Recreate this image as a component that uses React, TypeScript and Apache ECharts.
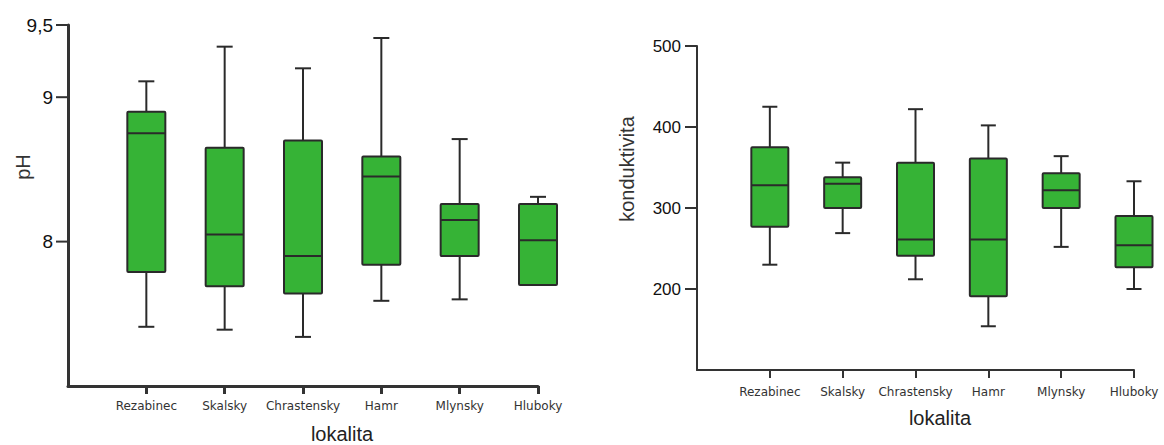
import React, { useEffect, useRef } from "react";
import * as echarts from "echarts";

const categories = ["Rezabinec", "Skalsky", "Chrastensky", "Hamr", "Mlynsky", "Hluboky"];

// [min, Q1, median, Q3, max]
const phBoxes = [
  [7.41, 7.79, 8.75, 8.9, 9.11],
  [7.39, 7.69, 8.05, 8.65, 9.35],
  [7.34, 7.64, 7.9, 8.7, 9.2],
  [7.59, 7.84, 8.45, 8.59, 9.41],
  [7.6, 7.9, 8.15, 8.26, 8.71],
  [7.7, 7.7, 8.01, 8.26, 8.31],
];

const condBoxes = [
  [230, 277, 328, 375, 425],
  [269, 300, 330, 338, 356],
  [212, 241, 261, 356, 422],
  [154, 191, 261, 361, 402],
  [252, 300, 322, 343, 364],
  [200, 227, 254, 290, 333],
];

const phTicks = [8, 9, 9.5];
const condTicks = [200, 300, 400, 500];

const GREEN = "#36b336";
const DARK = "#2a2a2a";

function makeRender(boxW: number, capW: number, lw: number, ticks: number[]) {
  return (params: any, api: any) => {
    const idx = api.value(0);
    const pMin = api.coord([idx, api.value(1)]);
    const pQ1 = api.coord([idx, api.value(2)]);
    const pMed = api.coord([idx, api.value(3)]);
    const pQ3 = api.coord([idx, api.value(4)]);
    const pMax = api.coord([idx, api.value(5)]);
    const x = pMed[0];
    const hb = boxW / 2;
    const hc = capW / 2;
    const st = { stroke: DARK, lineWidth: lw };
    const children: any[] = [];
    if (params.dataIndex === 0) {
      // y-axis tick marks, placed through the axis scale
      ticks.forEach((t) => {
        const p = api.coord([0, t]);
        children.push({
          type: "line",
          shape: { x1: p[0] - 12, y1: p[1], x2: p[0], y2: p[1] },
          style: { stroke: "#333", lineWidth: 2 },
        });
      });
    }
    if (pMax[1] < pQ3[1] - 0.5) {
      children.push({ type: "line", shape: { x1: x, y1: pMax[1], x2: x, y2: pQ3[1] }, style: st });
      children.push({ type: "line", shape: { x1: x - hc, y1: pMax[1], x2: x + hc, y2: pMax[1] }, style: st });
    }
    if (pMin[1] > pQ1[1] + 0.5) {
      children.push({ type: "line", shape: { x1: x, y1: pQ1[1], x2: x, y2: pMin[1] }, style: st });
      children.push({ type: "line", shape: { x1: x - hc, y1: pMin[1], x2: x + hc, y2: pMin[1] }, style: st });
    }
    children.push({
      type: "rect",
      shape: { x: x - hb, y: pQ3[1], width: boxW, height: pQ1[1] - pQ3[1], r: 1 },
      style: { fill: GREEN, stroke: DARK, lineWidth: lw },
    });
    children.push({ type: "line", shape: { x1: x - hb, y1: pMed[1], x2: x + hb, y2: pMed[1] }, style: st });
    return { type: "group", children };
  };
}

export default function App() {
  const ref = useRef<HTMLDivElement>(null);
  useEffect(() => {
    const chart = echarts.init(ref.current!, null, { renderer: "svg" });
    const xCats = ["", ...categories];
    const phData = phBoxes.map((b, i) => [i + 1, ...b]);
    const condData = condBoxes.map((b, i) => [i + 1, ...b]);
    const xAxisCommon = (gridIndex: number, lw: number, margin: number) => ({
      type: "category",
      gridIndex,
      data: xCats,
      boundaryGap: false,
      axisLine: { lineStyle: { color: "#333", width: lw } },
      axisTick: { show: true, length: 8, interval: (i: number) => i !== 0, lineStyle: { color: "#333", width: lw } },
      axisLabel: { interval: 0, fontSize: 12, color: "#333", fontFamily: "DejaVu Sans", margin },
      splitLine: { show: false },
    });
    chart.setOption({
      animation: false,
      backgroundColor: "#ffffff",
      grid: [
        { left: 68, top: 25, width: 470, height: 361 },
        { left: 697, top: 46, width: 437, height: 324 },
      ],
      xAxis: [xAxisCommon(0, 3, 14), xAxisCommon(1, 2, 16)],
      yAxis: [
        {
          type: "value",
          gridIndex: 0,
          min: 7,
          max: 9.5,
          axisLine: { show: true, lineStyle: { color: "#333", width: 3 } },
          axisTick: { show: false },
          axisLabel: {
            customValues: phTicks,
            fontSize: 19,
            color: "#111",
            fontFamily: "Liberation Sans",
            margin: 15,
            formatter: (v: number) => String(v).replace(".", ","),
          },
          splitLine: { show: false },
        },
        {
          type: "value",
          gridIndex: 1,
          min: 100,
          max: 500,
          axisLine: { show: true, lineStyle: { color: "#333", width: 2 } },
          axisTick: { show: false },
          axisLabel: {
            customValues: condTicks,
            fontSize: 17,
            color: "#111",
            fontFamily: "Liberation Sans",
            margin: 16,
          },
          splitLine: { show: false },
        },
      ],
      series: [
        {
          type: "custom",
          xAxisIndex: 0,
          yAxisIndex: 0,
          clip: false,
          data: phData,
          encode: { x: 0, y: [1, 2, 3, 4, 5] },
          renderItem: makeRender(38, 16, 2, phTicks),
        },
        {
          type: "custom",
          xAxisIndex: 1,
          yAxisIndex: 1,
          clip: false,
          data: condData,
          encode: { x: 0, y: [1, 2, 3, 4, 5] },
          renderItem: makeRender(37, 15, 2, condTicks),
        },
      ],
      graphic: [
        {
          type: "text",
          x: 23,
          y: 167,
          rotation: Math.PI / 2,
          style: { text: "pH", fontSize: 20, fill: "#333", fontFamily: "Liberation Sans", align: "center", verticalAlign: "middle" },
        },
        {
          type: "text",
          x: 627,
          y: 169,
          rotation: Math.PI / 2,
          style: { text: "konduktivita", fontSize: 20, fill: "#333", fontFamily: "Liberation Sans", align: "center", verticalAlign: "middle" },
        },
        {
          type: "text",
          x: 342,
          y: 434,
          style: { text: "lokalita", fontSize: 20, fill: "#222", fontFamily: "Liberation Sans", align: "center", verticalAlign: "middle" },
        },
        {
          type: "text",
          x: 940,
          y: 418,
          style: { text: "lokalita", fontSize: 20, fill: "#222", fontFamily: "Liberation Sans", align: "center", verticalAlign: "middle" },
        },
      ],
    });
    return () => chart.dispose();
  }, []);
  return <div ref={ref} style={{ position: "fixed", left: 0, top: 0, width: 1164, height: 445 }} />;
}
